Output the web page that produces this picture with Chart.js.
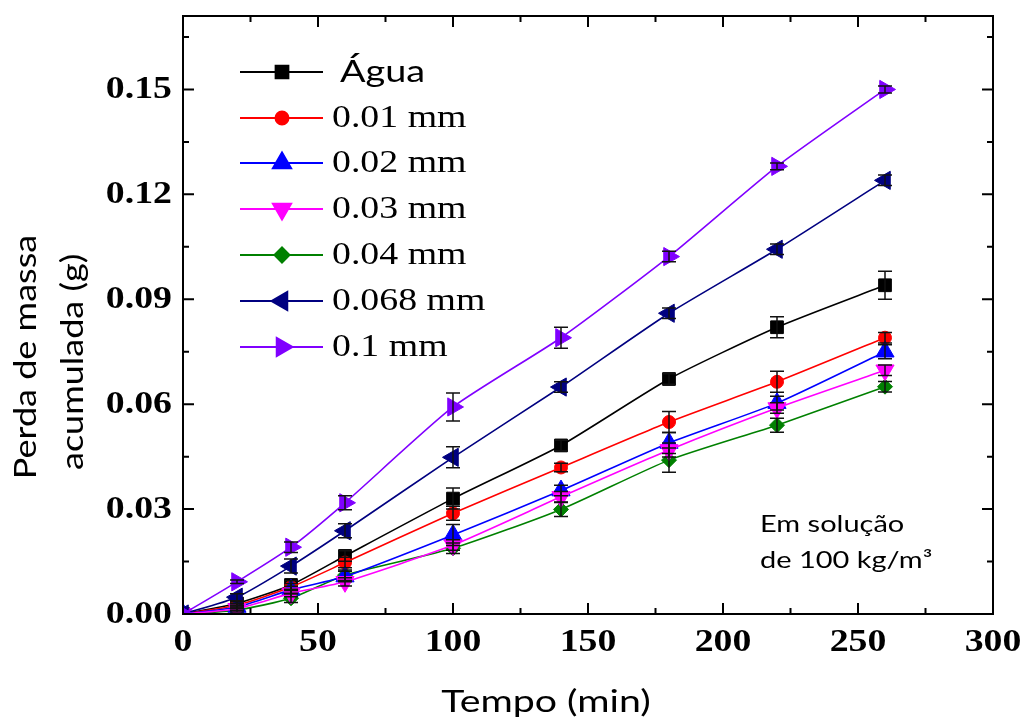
<!DOCTYPE html>
<html>
<head>
<meta charset="utf-8">
<script src="https://cdn.jsdelivr.net/npm/chart.js@4.4.0/dist/chart.umd.min.js"></script>
<style>
  html, body { margin: 0; padding: 0; background: #fff; }
  #wrap { width: 1024px; height: 721px; position: relative; }
</style>
</head>
<body>
<div id="wrap"><canvas id="massChart"></canvas></div>
<script>
// Data
const tempo = [0, 20, 40, 60, 100, 140, 180, 220, 260];
const labels = ['Água', '0.01 mm', '0.02 mm', '0.03 mm', '0.04 mm', '0.068 mm', '0.1 mm'];

const agua   = [0, 0.003, 0.0083, 0.0166, 0.033, 0.0482, 0.0672, 0.082, 0.094];
const mm001  = [0, 0.0025, 0.0077, 0.0147, 0.0288, 0.0419, 0.0549, 0.0664, 0.079];
const mm002  = [0, 0.002, 0.0069, 0.0107, 0.0226, 0.0353, 0.0489, 0.0603, 0.075];
const mm003  = [0, 0.0015, 0.0059, 0.0092, 0.0197, 0.0335, 0.0469, 0.0589, 0.0697];
const mm004  = [0, 0.0011, 0.0045, 0.0111, 0.0188, 0.0299, 0.044, 0.054, 0.065];
const mm0068 = [0, 0.0048, 0.0137, 0.0238, 0.0448, 0.0649, 0.086, 0.1043, 0.124];
const mm01   = [0, 0.0092, 0.0191, 0.0318, 0.0592, 0.079, 0.1022, 0.128, 0.150];

// error bar half-heights
const errAgua   = [0, 0.0005, 0.0012, 0.0015, 0.003, 0.0015, 0.0015, 0.003, 0.004];
const err001    = [0, 0.0005, 0.001, 0.0015, 0.002, 0.0012, 0.003, 0.003, 0.0015];
const err002    = [0, 0.0005, 0.001, 0.0015, 0.003, 0.0015, 0.003, 0.002, 0.002];
const err003    = [0, 0.0005, 0.001, 0.0012, 0.0015, 0.0015, 0.002, 0.0015, 0.0015];
const err004    = [0, 0.0005, 0.0012, 0.0015, 0.0015, 0.002, 0.0035, 0.002, 0.0015];
const err0068   = [0, 0.001, 0.002, 0.002, 0.003, 0.0015, 0.0015, 0.0015, 0.0015];
const err01     = [0, 0.0005, 0.0015, 0.002, 0.004, 0.003, 0.0015, 0.001, 0.001];

const xTicks = [0, 50, 100, 150, 200, 250, 300];
const yTicks = [0, 0.03, 0.06, 0.09, 0.12, 0.15];
const yTickLabels = ['0.00', '0.03', '0.06', '0.09', '0.12', '0.15'];

const SX = 1.22; // the source image is stretched horizontally
const serifB = 'bold 31px "Liberation Serif"';
const serif = '31px "Liberation Serif"';
const sans = 'Lato';
const radii = { rect: 9, circle: 6.5, triangle: 10.5, rectRot: 7.5 };

function mk(label, ys, errs, color, style, rot, order) {
    return {
        label: label,
        data: tempo.map((t, i) => ({ x: t, y: ys[i] })),
        errs: errs,
        borderColor: color,
        backgroundColor: color,
        borderWidth: 1.6,
        pointStyle: style,
        pointRotation: rot,
        pointRadius: radii[style],
        pointBorderWidth: 1,
        pointBorderColor: color,
        tension: 0.2,
        order: order
    };
}

const datasets = [
    mk(labels[0], agua, errAgua, '#000000', 'rect', 0, 5),
    mk(labels[1], mm001, err001, '#ff0000', 'circle', 0, 4),
    mk(labels[2], mm002, err002, '#0000ff', 'triangle', 0, 3),
    mk(labels[3], mm003, err003, '#ff00ff', 'triangle', 180, 2),
    mk(labels[4], mm004, err004, '#008000', 'rectRot', 0, 6),
    mk(labels[5], mm0068, err0068, '#000080', 'triangle', 270, 1),
    mk(labels[6], mm01, err01, '#8000ff', 'triangle', 90, 0)
];

function stretchText(ctx, text, x, y, align, sx) {
    ctx.save();
    ctx.translate(x, y);
    ctx.scale(sx || SX, 1);
    ctx.textAlign = align;
    ctx.fillText(text, 0, 0);
    ctx.restore();
}

// frame, inward ticks, tick labels and titles
const framePlugin = {
    id: 'frame',
    afterDraw(chart) {
        const ctx = chart.ctx;
        const a = chart.chartArea;
        const xs = chart.scales.x, ys = chart.scales.y;
        ctx.save();
        ctx.strokeStyle = '#000';
        ctx.lineWidth = 2;
        ctx.strokeRect(a.left, a.top, a.right - a.left, a.bottom - a.top);

        ctx.lineWidth = 2;
        ctx.beginPath();
        for (let v = 0; v <= 300; v += 25) {
            const px = xs.getPixelForValue(v);
            const len = v % 50 === 0 ? 11 : 6;
            ctx.moveTo(px, a.bottom); ctx.lineTo(px, a.bottom - len);
            ctx.moveTo(px, a.top); ctx.lineTo(px, a.top + len);
        }
        for (let k = 0; k <= 11; k++) {
            const py = ys.getPixelForValue(k * 0.015);
            const len = k % 2 === 0 ? 11 : 6;
            ctx.moveTo(a.left, py); ctx.lineTo(a.left + len, py);
            ctx.moveTo(a.right, py); ctx.lineTo(a.right - len, py);
        }
        ctx.stroke();

        ctx.fillStyle = '#000';
        ctx.font = serifB;
        ctx.textBaseline = 'middle';
        yTicks.forEach((v, i) => {
            stretchText(ctx, yTickLabels[i], 172, ys.getPixelForValue(v) + 1, 'right');
        });
        xTicks.forEach(v => {
            stretchText(ctx, String(v), xs.getPixelForValue(v), 643, 'center');
        });

        ctx.font = '30px ' + sans;
        ctx.textBaseline = 'alphabetic';
        stretchText(ctx, 'Tempo (min)', 546, 712, 'center', 1.31);

        // y title, rotated
        ctx.save();
        ctx.translate(0, 357);
        ctx.rotate(-Math.PI / 2);
        ctx.scale(1.2, 1);
        ctx.textAlign = 'center';
        ctx.fillText('Perda de massa', 0, 36);
        ctx.fillText('acumulada (g)', -4, 83);
        ctx.restore();

        ctx.font = '23px ' + sans;
        stretchText(ctx, 'Em solução', 760, 532, 'left', 1.26);
        stretchText(ctx, 'de 100 kg/m³', 760, 568, 'left', 1.26);

        // legend inside the plot
        const rowY = [72, 118, 163, 209, 255, 301, 347];
        chart.data.datasets.forEach((ds, i) => {
            const y = rowY[i];
            ctx.strokeStyle = ds.borderColor;
            ctx.lineWidth = 2;
            ctx.beginPath();
            ctx.moveTo(240, y); ctx.lineTo(323, y);
            ctx.stroke();
            ctx.fillStyle = ds.backgroundColor;
            Chart.helpers.drawPoint(ctx, {
                pointStyle: ds.pointStyle, rotation: ds.pointRotation,
                radius: ds.pointRadius, borderWidth: 1
            }, 282, y);
            ctx.fillStyle = '#000';
            ctx.textBaseline = 'middle';
            if (i === 0) {
                ctx.font = '31px ' + sans;
                stretchText(ctx, ds.label, 340, y, 'left');
            } else {
                ctx.font = serif;
                stretchText(ctx, ds.label, 332, y + 1, 'left');
            }
        });
        ctx.restore();
    }
};

// vertical error bars drawn with the chart's own scales
const errorBars = {
    id: 'errorBars',
    afterDatasetsDraw(chart) {
        const ctx = chart.ctx;
        const xs = chart.scales.x, ys = chart.scales.y;
        ctx.save();
        ctx.strokeStyle = '#111';
        ctx.lineWidth = 1.5;
        chart.data.datasets.forEach(ds => {
            ds.data.forEach((p, i) => {
                const e = ds.errs[i];
                if (!e) return;
                const px = xs.getPixelForValue(p.x);
                const top = ys.getPixelForValue(p.y + e);
                const bot = ys.getPixelForValue(p.y - e);
                ctx.beginPath();
                ctx.moveTo(px, top); ctx.lineTo(px, bot);
                ctx.moveTo(px - 7, top); ctx.lineTo(px + 7, top);
                ctx.moveTo(px - 7, bot); ctx.lineTo(px + 7, bot);
                ctx.stroke();
            });
        });
        ctx.restore();
    }
};

const config = {
    type: 'line',
    data: { datasets: datasets },
    options: {
        responsive: true,
        maintainAspectRatio: false,
        animation: false,
        layout: { padding: { top: 16, right: 31, left: 0, bottom: 0 } },
        plugins: {
            legend: { display: false },
            tooltip: { enabled: false }
        },
        scales: {
            x: {
                type: 'linear',
                min: 0,
                max: 300,
                grid: { display: false, drawTicks: false },
                border: { display: false },
                ticks: { display: false, stepSize: 50 },
                afterFit(scale) { scale.height = 107; }
            },
            y: {
                min: 0,
                max: 0.171,
                grid: { display: false, drawTicks: false },
                border: { display: false },
                ticks: { display: false, stepSize: 0.03 },
                afterFit(scale) { scale.width = 183; }
            }
        }
    },
    plugins: [errorBars, framePlugin]
};

document.addEventListener('DOMContentLoaded', function() {
    const ctx = document.getElementById('massChart').getContext('2d');
    new Chart(ctx, config);
});
</script>
</body>
</html>
